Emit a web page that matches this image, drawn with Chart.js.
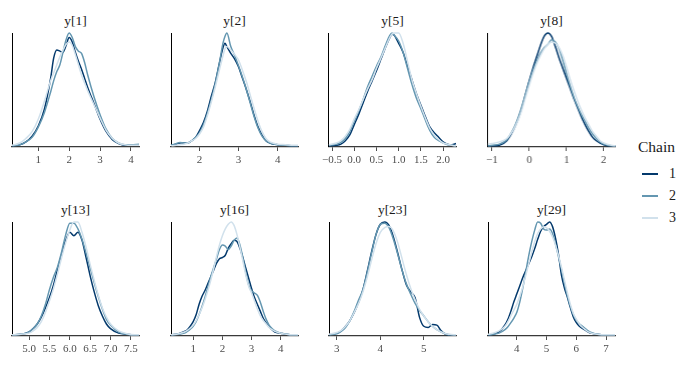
<!DOCTYPE html>
<html>
<head>
<meta charset="utf-8">
<script src="https://cdn.jsdelivr.net/npm/chart.js@4.4.1/dist/chart.umd.min.js"></script>
<style>
  html, body { margin: 0; padding: 0; background: #fff; }
  body { width: 692px; height: 365px; position: relative; overflow: hidden;
         font-family: "Liberation Serif", "DejaVu Serif", serif; }
  .panel { position: absolute; }
  .strip { position: absolute; width: 120px; margin-left: -60px; text-align: center;
           font-size: 13.5px; line-height: 16px; color: #1a1a1a; }
  .legend-title { position: absolute; left: 638px; top: 138px; font-size: 15.5px; line-height: 18px; color: #1a1a1a; }
  .legend-row { position: absolute; left: 642px; height: 18px; }
  .legend-key { position: absolute; left: 0; top: 8px; width: 16px; height: 2px; }
  .legend-label { position: absolute; left: 27px; top: 0; font-size: 14px; line-height: 18px; color: #1a1a1a; }
</style>
</head>
<body>
<script>
// --- data (densities, in % of each panel's height) ---
const panelTitles = ["y[1]", "y[2]", "y[5]", "y[8]", "y[13]", "y[16]", "y[23]", "y[29]"];
const chainNames = ["1", "2", "3"];
const chainColors = ["#03396c", "#6497b1", "#d1e1ec"];

// y[1]
const ticksY1 = [1, 2, 3, 4];
const gridY1 = [0.15,0.4,0.6,0.8,1.0,1.2,1.4,1.5,1.6,1.7,1.8,1.9,2.0,2.1,2.2,2.3,2.4,2.5,2.6,2.8,3.0,3.2,3.4,3.6,3.8,4.0,4.26];
const y1Chain1 = [0.5,1.5,4,9,18,33,60,78,85,84,83,89,96,92,83,75,68,60,52,38,24,13,6,2.5,1,1,1.5];
const y1Chain2 = [0.5,1.5,4,8,17,30,48,58,66,72,83,94,100,96,88,84,82,74,63,44,28,15,7,3,1.5,1.5,2];
const y1Chain3 = [1,3,7,13,24,40,58,65,72,79,85,90,92,89,81,72,63,56,49,37,25,14,7,3,1.5,1,1];

// y[2]
const ticksY2 = [2, 3, 4];
const gridY2 = [1.27,1.4,1.5,1.6,1.7,1.8,1.9,2.0,2.1,2.2,2.3,2.4,2.5,2.6,2.65,2.7,2.8,2.9,3.0,3.1,3.2,3.3,3.4,3.5,3.6,3.7,3.8,4.0,4.2,4.4,4.52];
const y2Chain1 = [1,2,3,3,3,5,8,14,21,31,44,56,72,87,91,88,82,77,70,60,50,39,27,17,10,5,3,1.5,1,0.5,0.5];
const y2Chain2 = [1,2.5,3.5,3,3,5,8,12,19,29,41,55,72,91,97,100,88,80,71,61,50,38,26,16,9,5,3,1.5,1,0.5,0.5];
const y2Chain3 = [0.5,1,1.5,2,3,5,7,11,17,27,39,52,66,80,86,88,85,81,76,67,57,45,33,22,13,7,4,2,1.5,1,1];

// y[5]
const ticksY5 = [-0.5, 0, 0.5, 1, 1.5, 2];
const gridY5 = [-0.57,-0.4,-0.3,-0.2,-0.1,0.0,0.1,0.2,0.3,0.4,0.5,0.6,0.7,0.8,0.85,0.9,1.0,1.1,1.2,1.3,1.4,1.5,1.6,1.7,1.8,1.9,2.0,2.1,2.2,2.29];
const y5Chain1 = [0.5,1,2,5,10,19,28,38,48,57,66,76,86,95,98,97,90,82,70,58,46,36,26,17,12,8,4,2,1.5,2.5];
const y5Chain2 = [1,2,3.5,7,13,22,31,41,52,61,70,78,88,97,99,97,92,82,68,54,42,33,23,14,8,5,3,1.5,1,0.5];
const y5Chain3 = [1.5,3,5,9,15,24,32,41,50,58,68,77,86,95,98,99,99,90,74,58,46,35,25,16,10,6,3,2,1,0.5];

// y[8]
const ticksY8 = [-1, 0, 1, 2];
const gridY8 = [-1.11,-1.0,-0.8,-0.6,-0.5,-0.4,-0.3,-0.2,-0.1,0.0,0.1,0.2,0.3,0.4,0.5,0.6,0.7,0.8,0.9,1.0,1.1,1.2,1.3,1.4,1.5,1.6,1.7,1.8,1.9,2.0,2.2,2.32];
const y8Chain1 = [0.5,0.5,1,5,10,16,24,34,46,58,69,79,89,97,100,97,88,78,69,60,51,42,34,26,19,13,8,5,3,1.5,0.5,0.5];
const y8Chain2 = [0.5,1,2,6,11,17,25,35,46,57,67,75,82,87,90,94,92,86,76,64,53,43,35,28,22,16,11,7,4,2,0.5,0.5];
const y8Chain3 = [2,2.5,4,7,11,16,23,32,43,54,64,73,80,86,90,92,91,87,80,70,59,49,40,32,25,19,13,9,5,3,1,0.5];

// y[13]
const ticksY13 = [5, 5.5, 6, 6.5, 7, 7.5];
const gridY13 = [4.58,4.8,5.0,5.1,5.2,5.3,5.4,5.5,5.6,5.7,5.8,5.9,6.0,6.1,6.2,6.3,6.4,6.5,6.6,6.7,6.8,6.9,7.0,7.2,7.4,7.6,7.70];
const y13Chain1 = [0.5,1,3,6,10,16,24,33,44,58,71,83,90,87,90,83,68,52,38,26,17,10,6,2,1,0.5,0.5];
const y13Chain2 = [0.5,1,3,6,10,17,27,40,51,60,73,88,98,98,93,84,72,59,46,34,23,14,9,3,1,0.5,0.5];
const y13Chain3 = [0.5,1,2,4,7,12,20,30,41,54,68,81,92,99,99,90,77,62,48,35,24,16,10,4,1.5,0.5,0.5];

// y[16]
const ticksY16 = [1, 2, 3, 4];
const gridY16 = [0.24,0.5,0.7,0.8,0.9,1.0,1.1,1.2,1.3,1.4,1.5,1.6,1.7,1.8,1.9,2.0,2.1,2.2,2.3,2.4,2.5,2.6,2.7,2.8,2.9,3.0,3.1,3.2,3.3,3.4,3.5,3.6,3.7,3.8,4.0,4.2,4.4,4.59];
const y16Chain1 = [0.5,1.5,3.5,5,8,12,18,27,34,39,45,51,57,63,67,68,70,76,80,83,82,76,68,59,50,41,33,27,21,15,11,8,5,3,2,1,0.5,0.5];
const y16Chain2 = [0.5,1,2,3.5,5.5,8,12,18,25,33,42,51,59,67,75,79,78,75,78,83,85,79,68,55,44,39,37,35,29,21,14,9,6,4,2,1,0.5,0.5];
const y16Chain3 = [0.5,1.5,3,4.5,6.5,9,13,18,24,31,39,48,58,69,79,87,93,97,99,96,88,77,65,53,43,37,30,23,17,13,10,7,5,3.5,2,1,0.5,0.5];

// y[23]
const ticksY23 = [3, 4, 5];
const gridY23 = [2.82,3.0,3.1,3.2,3.3,3.4,3.5,3.6,3.7,3.8,3.9,4.0,4.1,4.2,4.3,4.4,4.5,4.6,4.7,4.8,4.9,5.0,5.1,5.2,5.3,5.4,5.5,5.6,5.74];
const y23Chain1 = [0.5,2,4,8,13,20,29,40,56,73,88,97,99,96,86,72,57,44,38,33,16,8,7,9.5,9,4,1,0.5,0.5];
const y23Chain2 = [0.5,1.5,3.5,7,13,21,31,40,55,72,88,97,98,94,84,71,57,45,36,28,22,17,12,8,5,3,1.5,0.5,0.5];
const y23Chain3 = [1,2.5,4.5,8,13,20,28,38,51,66,80,90,94,95,91,81,67,53,41,31,23,17,12,8,5,3,1.5,1,0.5];

// y[29]
const ticksY29 = [4, 5, 6, 7];
const gridY29 = [3.03,3.2,3.4,3.6,3.7,3.8,3.9,4.0,4.1,4.2,4.3,4.4,4.5,4.6,4.7,4.8,4.9,5.0,5.1,5.2,5.3,5.4,5.5,5.6,5.7,5.8,5.9,6.0,6.1,6.2,6.3,6.4,6.5,6.7,7.0,7.30];
const y29Chain1 = [0.5,1,3,9,14,21,29,36,43,50,56,62,68,75,83,90,94,96,98,94,84,70,52,41,33,24,16,11,8,6,4.5,3,2,1,0.5,0.5];
const y29Chain2 = [0.5,1,2,5,7.5,11,15,20,29,41,55,69,81,91,98,97,92,91,92,88,79,68,57,45,34,25,18,13,10,8,6,4,2.5,1,0.5,0.5];
const y29Chain3 = [1,2,4,8,12,17,22,27,34,42,52,62,72,81,88,92,94,93,90,85,78,69,59,48,37,27,19,14,10,7,5,3,2,1,0.5,0.5];

// --- layout ---
const panelLefts = [12, 171, 329, 488];
const panelTops = [33, 222];
const panelWidth = 127;
const panelHeight = 114;
const fontFamily = "'Liberation Serif', 'DejaVu Serif', serif";

const panels = [
  { title: panelTitles[0], ticks: ticksY1, grid: gridY1, chains: [y1Chain1, y1Chain2, y1Chain3] },
  { title: panelTitles[1], ticks: ticksY2, grid: gridY2, chains: [y2Chain1, y2Chain2, y2Chain3] },
  { title: panelTitles[2], ticks: ticksY5, grid: gridY5, chains: [y5Chain1, y5Chain2, y5Chain3] },
  { title: panelTitles[3], ticks: ticksY8, grid: gridY8, chains: [y8Chain1, y8Chain2, y8Chain3] },
  { title: panelTitles[4], ticks: ticksY13, grid: gridY13, chains: [y13Chain1, y13Chain2, y13Chain3] },
  { title: panelTitles[5], ticks: ticksY16, grid: gridY16, chains: [y16Chain1, y16Chain2, y16Chain3] },
  { title: panelTitles[6], ticks: ticksY23, grid: gridY23, chains: [y23Chain1, y23Chain2, y23Chain3] },
  { title: panelTitles[7], ticks: ticksY29, grid: gridY29, chains: [y29Chain1, y29Chain2, y29Chain3] },
];

function formatTick(v, decimals) {
  return v.toFixed(decimals).replace("-", "\u2212");
}

function makePanel(p, i) {
  const box = {
    left: panelLefts[i % 4],
    top: panelTops[Math.floor(i / 4)],
    width: panelWidth,
    height: panelHeight,
  };

  const wrap = document.createElement("div");
  wrap.className = "panel";
  wrap.style.left = box.left + "px";
  wrap.style.top = box.top + "px";
  wrap.style.width = box.width + 20 + "px";
  wrap.style.height = box.height + 30 + "px";
  const canvas = document.createElement("canvas");
  wrap.appendChild(canvas);
  document.body.appendChild(wrap);

  const decimals = p.ticks.some((v) => !Number.isInteger(v)) ? 1 : 0;
  const yMax = Math.max(...p.chains.flat());

  const datasets = p.chains.map((ys, c) => ({
    label: chainNames[c],
    data: p.grid.map((x, k) => ({ x: x, y: ys[k] })),
    borderColor: chainColors[c],
    borderWidth: 1.5,
    pointRadius: 0,
    fill: false,
    cubicInterpolationMode: "monotone",
    clip: false,
    order: p.chains.length - c, // later chains drawn on top
  }));

  const chart = new Chart(canvas, {
    type: "line",
    data: { datasets: datasets },
    options: {
      responsive: true,
      maintainAspectRatio: false,
      animation: false,
      layout: { padding: { left: 2, right: 12, top: 2, bottom: 0 } },
      plugins: { legend: { display: false }, tooltip: { enabled: false }, title: { display: false } },
      scales: {
        x: {
          type: "linear",
          min: p.grid[0],
          max: p.grid[p.grid.length - 1],
          afterBuildTicks: (scale) => {
            scale.ticks = p.ticks.map((v) => ({ value: v }));
          },
          ticks: {
            autoSkip: false,
            maxRotation: 0,
            padding: 3,
            color: "#4d4d4d",
            font: { family: fontFamily, size: 11 },
            callback: (v) => formatTick(v, decimals),
          },
          grid: { display: true, drawOnChartArea: false, drawTicks: true, tickLength: 4, color: "#4d4d4d" },
          border: { display: true, color: "#3a3a3a", width: 1.3 },
        },
        y: {
          min: -0.005 * yMax,
          max: yMax,
          ticks: { display: false },
          grid: { display: false, drawTicks: false },
          border: { display: true, color: "#000", width: 1 },
        },
      },
    },
  });

  // line the plot area up with the panel box
  const a = chart.chartArea;
  const mL = a.left, mT = a.top;
  const mR = chart.width - a.right, mB = chart.height - a.bottom;
  wrap.style.left = box.left - mL + "px";
  wrap.style.top = box.top - mT + "px";
  wrap.style.width = mL + box.width + mR + "px";
  wrap.style.height = mT + box.height + mB + "px";
  chart.resize();

  const strip = document.createElement("div");
  strip.className = "strip";
  strip.textContent = p.title;
  strip.style.left = box.left + box.width / 2 + "px";
  strip.style.top = box.top - 12 - 8 + "px";
  document.body.appendChild(strip);
}

panels.forEach(makePanel);

// legend
const legendTitle = document.createElement("div");
legendTitle.className = "legend-title";
legendTitle.textContent = "Chain";
document.body.appendChild(legendTitle);

chainNames.forEach((name, c) => {
  const row = document.createElement("div");
  row.className = "legend-row";
  row.style.top = 165 + c * 22 + "px";
  const key = document.createElement("div");
  key.className = "legend-key";
  key.style.background = chainColors[c];
  const label = document.createElement("div");
  label.className = "legend-label";
  label.textContent = name;
  row.appendChild(key);
  row.appendChild(label);
  document.body.appendChild(row);
});
</script>
</body>
</html>
